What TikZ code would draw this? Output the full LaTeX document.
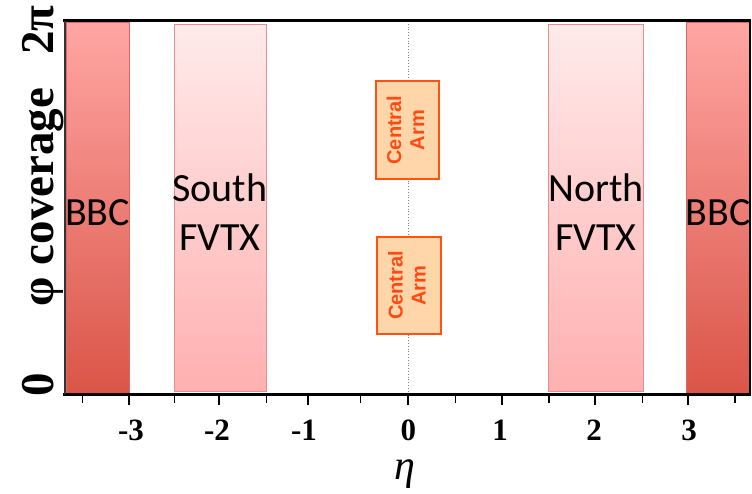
\documentclass[tikz,border=0pt]{standalone}
\usepackage{fontspec}
\setmainfont{Liberation Serif}
\newfontfamily\calib{Carlito}
\newfontfamily\arialf{Liberation Sans}
\definecolor{bbctop}{HTML}{FFA6A3}
\definecolor{bbcbot}{HTML}{DA5548}
\definecolor{bbcedge}{HTML}{D86A66}
\definecolor{fvtxtop}{HTML}{FFEAEA}
\definecolor{fvtxbot}{HTML}{FFB0B0}
\definecolor{fvtxedge}{HTML}{E88E8E}
\definecolor{armfill}{HTML}{FFD5AA}
\definecolor{armedge}{HTML}{FF5314}
\definecolor{armtext}{HTML}{FF4A12}
\tikzset{
  bbcbox/.style={rectangle, inner sep=0pt, top color=bbctop, bottom color=bbcbot, draw=bbcedge, line width=0.8pt},
  fvtxbox/.style={rectangle, inner sep=0pt, top color=fvtxtop, bottom color=fvtxbot, draw=fvtxedge, line width=1pt},
  armbox/.style={rectangle, inner sep=0pt, fill=armfill, draw=armedge, line width=2.6pt,
    text=armtext, font=\arialf\bfseries\fontsize{20}{26}\selectfont, align=center},
  boxlabel/.style={font=\calib\fontsize{40}{49}\selectfont, align=center, text=black, inner sep=0pt},
  ticklabel/.style={font=\bfseries\fontsize{31}{31}\selectfont, inner sep=0pt, anchor=base},
  ylab/.style={font=\bfseries\fontsize{47}{47}\selectfont, rotate=90, inner sep=0pt, anchor=base},
  majortick/.style={line width=2pt},
  minortick/.style={line width=1.1pt}
}
\begin{document}
\begin{tikzpicture}[x=1pt,y=-1pt]
\useasboundingbox (0,0) rectangle (752,494);
% detector boxes
\node[bbcbox, minimum width=63pt, minimum height=371pt] (bbcS) at (97.5,207.5) {};
\node[fvtxbox, minimum width=92pt, minimum height=366pt] (fvtxS) at (220,208) {};
\node[fvtxbox, minimum width=95pt, minimum height=366pt] (fvtxN) at (595.5,208) {};
\node[bbcbox, minimum width=64pt, minimum height=371pt] (bbcN) at (718,207.5) {};
% dotted eta=0 line
\coordinate (ztop) at (408.3,21);
\coordinate (zbot) at (408.3,394);
\draw[gray, dotted, line width=0.8pt] (ztop) -- (zbot);
% central arm
\node[armbox, minimum width=63pt, minimum height=98pt] (armU) at (407.5,130) {\rotatebox{90}{\begin{tabular}{@{}c@{}}Central\\[-3pt]Arm\end{tabular}}};
\node[armbox, minimum width=64pt, minimum height=97pt] (armL) at (409,285.5) {\rotatebox{90}{\begin{tabular}{@{}c@{}}Central\\[-3pt]Arm\end{tabular}}};
% box labels
\node[boxlabel] (tbbcS) at (97.5,213) {BBC};
\node[boxlabel] (tfvtxS) at (220,212) {South\\FVTX};
\node[boxlabel] (tfvtxN) at (596,212) {North\\FVTX};
\node[boxlabel] (tbbcN) at (718,213) {BBC};
% frame
\draw[line width=3pt] (63,21) -- (751,21);
\draw[line width=3pt] (63,394.5) -- (751,394.5);
\draw[line width=1.2pt, black!80] (65,21) -- (65,394);
\draw[line width=2pt] (750,21) -- (750,394);
% ticks
\foreach \x in {129,219,308.3,408.3,502.3,595,687.7}
  \draw[majortick] (\x,395) -- (\x,405);
\foreach \x in {82.7,174.3,266.3,360.7,455.7,549,642.3,735}
  \draw[minortick] (\x,395) -- (\x,403);
% tick labels
\node[ticklabel] (lm3) at (131,440) {-3};
\node[ticklabel] (lm2) at (217,440) {-2};
\node[ticklabel] (lm1) at (304,440) {-1};
\node[ticklabel] (l0) at (408.3,440) {0};
\node[ticklabel] (l1) at (500,440) {1};
\node[ticklabel] (l2) at (594,440) {2};
\node[ticklabel] (l3) at (689,440) {3};
% axis titles
\node[font=\itshape\fontsize{42}{42}\selectfont, inner sep=0pt, anchor=base] (eta) at (405,479) {η};
\node[ylab] (y2pi) at (53,30) {2π};
\node[ylab] (ycov) at (53,197) {φ coverage};
\node[ylab] (y0) at (53,385) {0};
\end{tikzpicture}
\end{document}
